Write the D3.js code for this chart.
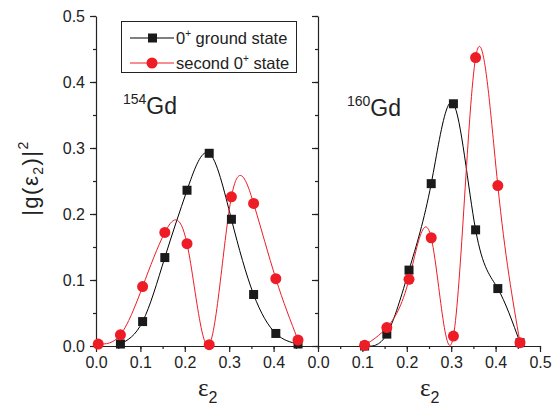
<!DOCTYPE html>
<html>
<head>
<meta charset="utf-8">
<script src="https://cdn.jsdelivr.net/npm/d3@7"></script>
<style>
  body { margin: 0; background: #fff; }
  text { font-family: "Liberation Sans", Arial, sans-serif; fill: #222; }
</style>
</head>
<body>
<svg id="chart" width="554" height="411"></svg>
<script>
// eps2 sample points (bin centres)
const eps154 = [0.005, 0.055, 0.105, 0.155, 0.205, 0.255, 0.305, 0.355, 0.405, 0.455];
const ground154 = [null, 0.003, 0.037, 0.134, 0.236, 0.292, 0.192, 0.078, 0.019, 0.003];
const second154 = [0.003, 0.017, 0.090, 0.172, 0.155, 0.002, 0.226, 0.216, 0.102, 0.009];

const eps160 = [0.105, 0.155, 0.205, 0.255, 0.305, 0.355, 0.405, 0.455];
const ground160 = [0.000, 0.018, 0.115, 0.246, 0.367, 0.176, 0.087, 0.005];
const second160 = [0.001, 0.028, 0.101, 0.164, 0.015, 0.437, 0.243, 0.005];

const xTicks154 = [0.0, 0.1, 0.2, 0.3, 0.4];
const xTicks160 = [0.0, 0.1, 0.2, 0.3, 0.4, 0.5];
const yTicks = [0.0, 0.1, 0.2, 0.3, 0.4, 0.5];

const svg = d3.select("#chart");
const plotTop = 16, plotBottom = 346;

const y = d3.scaleLinear().domain([0, 0.5]).range([plotBottom, plotTop]);

function minorTicks(step, max) {
    return d3.range(0, max + 1e-9, step);
}

function drawPanel(x0, x1, eps, ground, second, xTicks, showYLabels, label) {
    const x = d3.scaleLinear().domain([0, 0.5]).range([x0, x1]);
    const g = svg.append("g");

    //clip so the splines stay inside the panel
    const id = "clip" + x0;
    svg.append("clipPath").attr("id", id)
        .append("rect")
        .attr("x", x0).attr("y", plotTop - 20)
        .attr("width", x1 - x0).attr("height", plotBottom - plotTop + 20);

    //minor ticks
    g.append("g")
        .attr("transform", `translate(0,${plotBottom})`)
        .call(d3.axisBottom(x).tickValues(minorTicks(0.05, 0.5)).tickSize(3).tickFormat(""))
        .call(a => a.select(".domain").remove());
    g.append("g")
        .attr("transform", `translate(${x0},0)`)
        .call(d3.axisLeft(y).tickValues(minorTicks(0.05, 0.5)).tickSize(3).tickFormat(""))
        .call(a => a.select(".domain").remove());

    //x-axis
    g.append("g")
        .attr("transform", `translate(0,${plotBottom})`)
        .call(d3.axisBottom(x).tickValues(xTicks).tickSize(6).tickPadding(5).tickSizeOuter(0)
            .tickFormat(d3.format(".1f")))
        .call(a => a.selectAll("text").style("font-size", "16px"));

    //y-axis
    g.append("g")
        .attr("transform", `translate(${x0},0)`)
        .call(d3.axisLeft(y).tickValues(yTicks).tickSize(6).tickPadding(5).tickSizeOuter(0)
            .tickFormat(showYLabels ? d3.format(".1f") : ""))
        .call(a => a.selectAll("text").style("font-size", "16px"));

    g.selectAll(".domain, .tick line").attr("stroke", "#222").attr("stroke-width", 1.2);

    //nucleus label
    const t = g.append("text")
        .attr("x", label.x)
        .attr("y", label.y);
    t.append("tspan").attr("dy", -10).style("font-size", "14px").text(label.mass);
    t.append("tspan").attr("dy", 10).style("font-size", "23px").text("Gd");

    //curves
    const line = d3.line()
        .x(d => x(d[0]))
        .y(d => y(d[1]))
        .curve(d3.curveNatural);

    const series = [
        { vals: ground, color: "#000", shape: "square" },
        { vals: second, color: "#ee1c25", shape: "circle" }
    ];

    series.forEach(s => {
        const pts = eps.map((e, i) => [e, s.vals[i]]).filter(d => d[1] != null);
        g.append("path")
            .datum(pts)
            .attr("clip-path", `url(#${id})`)
            .attr("fill", "none")
            .attr("stroke", s.color)
            .attr("stroke-width", 1)
            .attr("d", line);
    });

    series.forEach(s => {
        const pts = eps.map((e, i) => [e, s.vals[i]]).filter(d => d[1] != null);
        if (s.shape === "square") {
            g.selectAll(null).data(pts).enter().append("rect")
                .attr("x", d => x(d[0]) - 4.5)
                .attr("y", d => y(d[1]) - 4.5)
                .attr("width", 9).attr("height", 9)
                .attr("fill", "#1a1a1a");
        } else {
            g.selectAll(null).data(pts).enter().append("circle")
                .attr("cx", d => x(d[0]))
                .attr("cy", d => y(d[1]))
                .attr("r", 5.5)
                .attr("fill", s.color);
        }
    });

    //x title
    const xt = g.append("text")
        .attr("x", (x0 + x1) / 2 - 9)
        .attr("y", 396);
    xt.append("tspan").style("font-family", "'Liberation Serif', serif").style("font-size", "25px").text("ε");
    xt.append("tspan").attr("dy", 7).style("font-size", "16px").text("2");
}

drawPanel(96, 318, eps154, ground154, second154, xTicks154, true, { x: 123, y: 114, mass: "154" });
drawPanel(318, 540, eps160, ground160, second160, xTicks160, false, { x: 347, y: 116, mass: "160" });

//y title
const yt = svg.append("text")
    .attr("transform", "translate(38,178) rotate(-90)")
    .attr("text-anchor", "middle")
    .style("font-size", "22px")
    .style("letter-spacing", "1.5px");
yt.append("tspan").text("|g(ε");
yt.append("tspan").attr("dy", 5).style("font-size", "14px").text("2");
yt.append("tspan").attr("dy", -5).text(")|");
yt.append("tspan").attr("dy", -10).style("font-size", "14px").text("2");

//legend
const legend = svg.append("g");
legend.append("rect")
    .attr("x", 121.5).attr("y", 21.5)
    .attr("width", 175).attr("height", 51)
    .attr("fill", "#fff").attr("stroke", "#222").attr("stroke-width", 1);

const legendItems = [
    { label: ["0", "+", " ground state"], color: "#000", shape: "square" },
    { label: ["second 0", "+", " state"], color: "#ee1c25", shape: "circle" }
];

legendItems.forEach((d, i) => {
    const ly = 38 + i * 25;
    legend.append("line")
        .attr("x1", 130).attr("x2", 174)
        .attr("y1", ly).attr("y2", ly)
        .attr("stroke", d.color).attr("stroke-width", 1);
    if (d.shape === "square") {
        legend.append("rect").attr("x", 148).attr("y", ly - 4.5)
            .attr("width", 9).attr("height", 9).attr("fill", "#1a1a1a");
    } else {
        legend.append("circle").attr("cx", 152).attr("cy", ly).attr("r", 5.5).attr("fill", d.color);
    }
    const t = legend.append("text").attr("x", 176).attr("y", ly + 5.5).style("font-size", "16.5px");
    t.append("tspan").text(d.label[0]);
    t.append("tspan").attr("dy", -7).style("font-size", "10px").text(d.label[1]);
    t.append("tspan").attr("dy", 7).text(d.label[2]);
});
</script>
</body>
</html>
